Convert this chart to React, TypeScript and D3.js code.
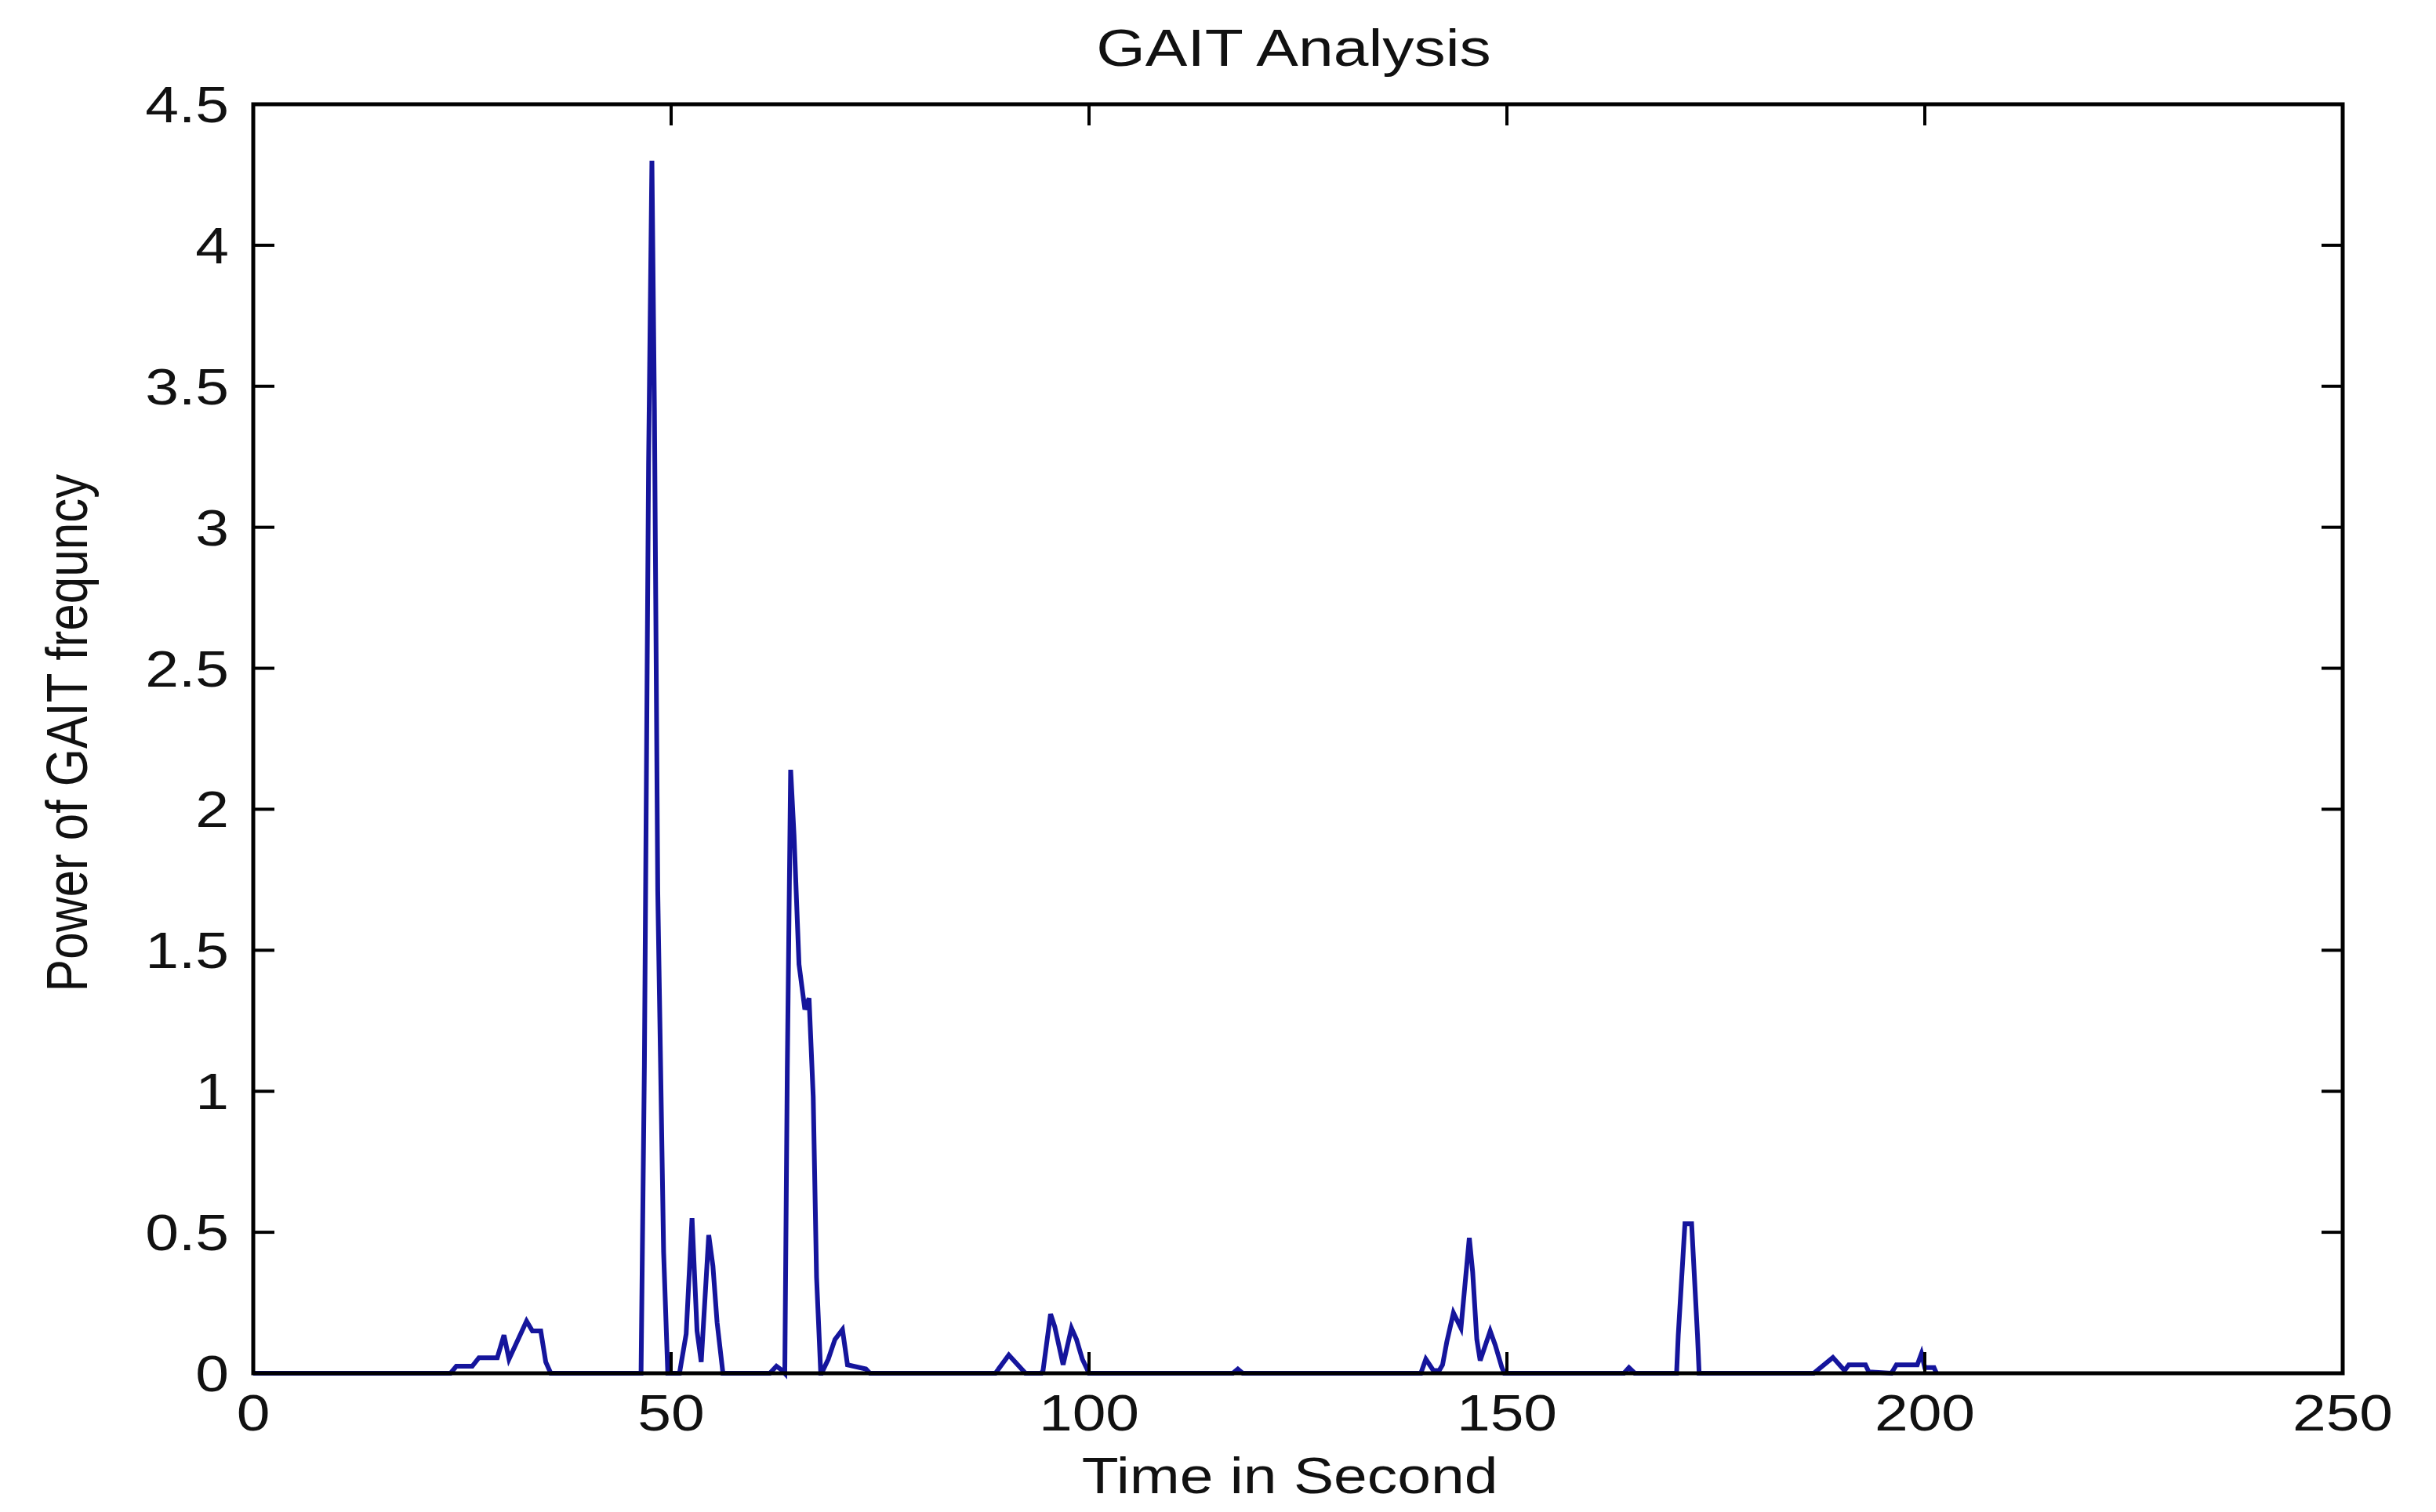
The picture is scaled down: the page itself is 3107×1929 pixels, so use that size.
import React from 'react';
import * as d3 from 'd3';

// values (time in s, power)
const timeSec = [
  0, 23.6, 24.3, 26.2, 27.0, 29.2, 30.0, 30.6, 32.7, 33.4, 34.4, 35.0, 35.6,
  46.4, 46.8, 47.3, 47.7, 48.0, 48.4, 49.1, 49.6,
  51.0, 51.8, 52.5, 53.1, 53.6, 54.5, 55.0, 55.5, 56.2,
  61.8, 62.6, 63.3, 63.6, 63.9, 64.3, 64.7, 65.3, 66.0, 66.5, 67.0, 67.4, 67.9,
  68.0, 68.8, 69.6, 70.5, 71.1, 73.3, 73.8,
  88.8, 90.4, 92.4,
  94.3, 94.5, 95.4, 95.9, 96.9, 97.9, 98.5, 99.2, 100.0,
  117.2, 117.8, 118.4,
  139.7, 140.3, 141.2, 141.9, 142.3, 142.8, 143.6, 144.5, 145.5, 145.9, 146.4, 146.8, 148.0, 148.6, 149.4, 149.7,
  164.0, 164.6, 165.3,
  170.3, 170.5, 171.3, 172.1, 172.8, 173.0,
  186.7, 189.0, 190.4, 190.9, 192.9, 193.3,
  196.0, 196.6, 199.1, 199.6, 200.0, 201.1, 201.4,
];

const power = [
  0, 0, 0.025, 0.025, 0.055, 0.055, 0.135, 0.05, 0.185, 0.15, 0.15, 0.04, 0,
  0, 1.09, 3.22, 4.3, 3.42, 1.71, 0.43, 0,
  0, 0.14, 0.55, 0.15, 0.04, 0.49, 0.38, 0.18, 0,
  0, 0.025, 0.01, 0, 1.08, 2.14, 1.91, 1.45, 1.29, 1.33, 0.98, 0.34, 0,
  0, 0.05, 0.12, 0.155, 0.03, 0.015, 0,
  0, 0.065, 0,
  0, 0.01, 0.21, 0.165, 0.03, 0.16, 0.12, 0.05, 0,
  0, 0.015, 0,
  0, 0.05, 0.01, 0.01, 0.03, 0.11, 0.214, 0.16, 0.48, 0.36, 0.12, 0.045, 0.15, 0.1, 0.02, 0,
  0, 0.02, 0,
  0, 0.135, 0.53, 0.53, 0.135, 0,
  0, 0.056, 0.01, 0.03, 0.03, 0.005,
  0, 0.03, 0.03, 0.07, 0.02, 0.02, 0,
];

const xTicks = [0, 50, 100, 150, 200, 250];
const yTicks = [0, 0.5, 1, 1.5, 2, 2.5, 3, 3.5, 4, 4.5];

const W = 3107;
const H = 1929;
const margin = { left: 323, right: 119, top: 133, bottom: 177 };
const FONT = '"Liberation Sans", Arial, Helvetica, sans-serif';
const STRETCH = 1.2; // the reference image is widened horizontally

export default function App() {
  const x = d3.scaleLinear().domain([0, 250]).range([margin.left, W - margin.right]);
  const y = d3.scaleLinear().domain([0, 4.5]).range([H - margin.bottom, margin.top]);

  const pts: [number, number][] = timeSec.map((t, i) => [t, power[i]]);
  const line = d3.line<[number, number]>()
    .x(d => x(d[0]))
    .y(d => y(d[1]));

  const x0 = x(0), x1 = x(250), y0 = y(0), y1 = y(4.5);
  const tickLen = 27;
  const fmt = d3.format('~g');

  return (
    <svg
      width={W}
      height={H}
      style={{ position: 'absolute', left: 0, top: 0, display: 'block', background: '#fff' }}
      fontFamily={FONT}
    >
      <rect x={0} y={0} width={W} height={H} fill="#fff" />

      {/* data */}
      <path d={line(pts) || ''} fill="none" stroke="#15159c" strokeWidth={6} strokeLinejoin="miter" />

      {/* box */}
      <rect x={x0} y={y1} width={x1 - x0} height={y0 - y1} fill="none" stroke="#000" strokeWidth={5} />

      {/* x ticks */}
      {xTicks.map(t => (
        <g key={'x' + t}>
          <line x1={x(t)} x2={x(t)} y1={y0} y2={y0 - tickLen} stroke="#000" strokeWidth={4} />
          <line x1={x(t)} x2={x(t)} y1={y1} y2={y1 + tickLen} stroke="#000" strokeWidth={4} />
          <text
            transform={`translate(${x(t)},1825) scale(${STRETCH},1)`}
            textAnchor="middle"
            fontSize={64}
            fill="#111"
          >
            {fmt(t)}
          </text>
        </g>
      ))}

      {/* y ticks */}
      {yTicks.map(v => (
        <g key={'y' + v}>
          <line x1={x0} x2={x0 + tickLen} y1={y(v)} y2={y(v)} stroke="#000" strokeWidth={4} />
          <line x1={x1} x2={x1 - tickLen} y1={y(v)} y2={y(v)} stroke="#000" strokeWidth={4} />
          <text
            transform={`translate(292,${y(v)}) scale(${STRETCH},1)`}
            textAnchor="end"
            dy="0.36em"
            fontSize={64}
            fill="#111"
          >
            {fmt(v)}
          </text>
        </g>
      ))}

      {/* title and labels */}
      <text
        transform={`translate(1650,84) scale(${STRETCH},1)`}
        textAnchor="middle"
        fontSize={67}
        fill="#111"
      >
        GAIT Analysis
      </text>
      <text
        transform={`translate(1645,1905) scale(${STRETCH},1)`}
        textAnchor="middle"
        fontSize={64}
        fill="#111"
      >
        Time in Second
      </text>
      <text
        transform={`translate(111,935) scale(${STRETCH},1) rotate(-90)`}
        textAnchor="middle"
        fontSize={62}
        fill="#111"
      >
        Power of GAIT frequncy
      </text>
    </svg>
  );
}
